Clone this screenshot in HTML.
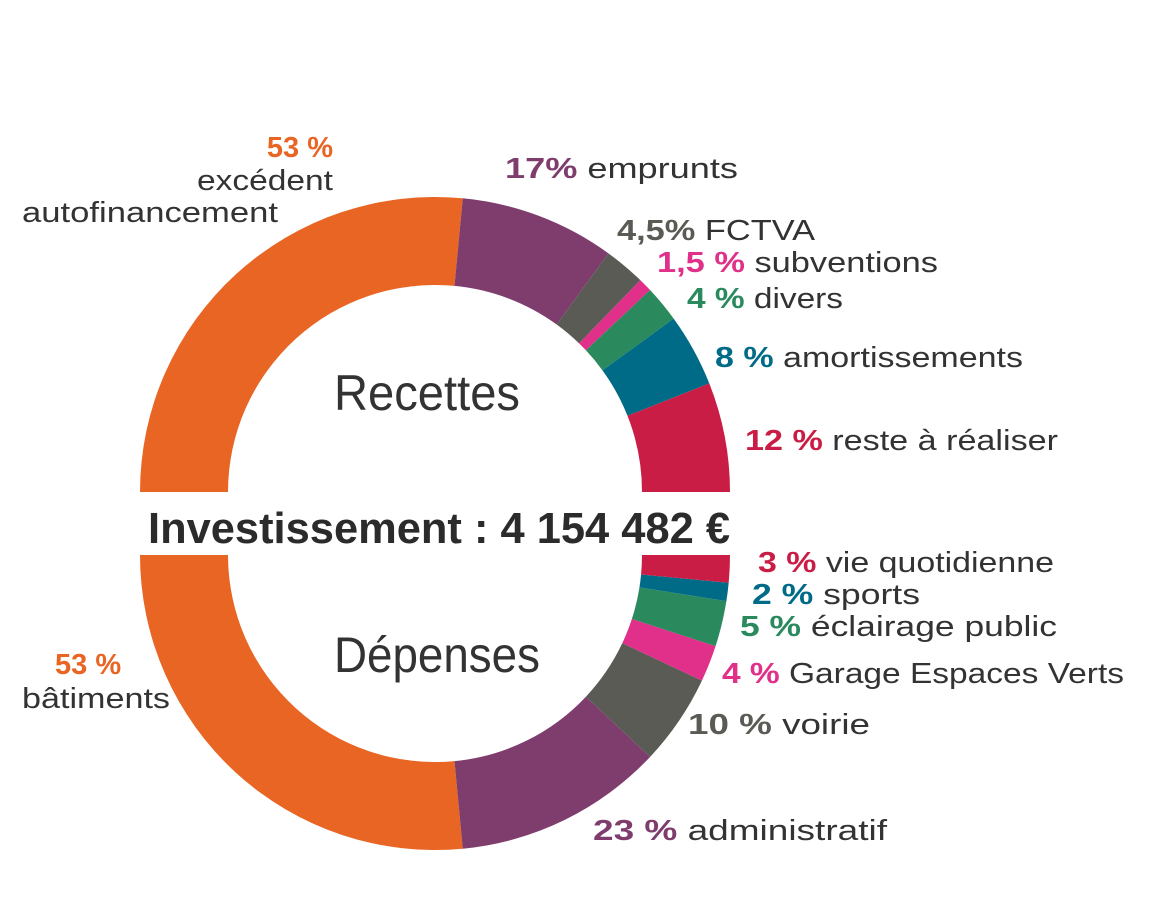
<!DOCTYPE html>
<html><head><meta charset="utf-8"><style>
html,body{margin:0;padding:0;background:#fff;}
svg{display:block;font-family:"Liberation Sans",sans-serif;}
</style></head><body>
<svg id="chart" width="1151" height="922" viewBox="0 0 1151 922" xmlns="http://www.w3.org/2000/svg">
<g id="slices"></g>
<g id="labels"></g>
<text x="427" y="410" font-size="50" fill="#333" text-anchor="middle" textLength="186" lengthAdjust="spacingAndGlyphs">Recettes</text>
<text x="437" y="672" font-size="50" fill="#333" text-anchor="middle" textLength="206" lengthAdjust="spacingAndGlyphs">Dépenses</text>
<text x="148" y="543" font-size="44" font-weight="bold" fill="#2b2b2b" textLength="582" lengthAdjust="spacingAndGlyphs">Investissement : 4 154 482 €</text>
<text x="333" y="157" font-size="29" font-weight="bold" fill="#E96524" text-anchor="end">53 %</text>
<text x="333" y="190" font-size="29" fill="#333" text-anchor="end" textLength="136" lengthAdjust="spacingAndGlyphs">excédent</text>
<text x="22" y="222" font-size="29" fill="#333" textLength="256" lengthAdjust="spacingAndGlyphs">autofinancement</text>
<text x="55" y="674" font-size="29" font-weight="bold" fill="#E96524">53 %</text>
<text x="22" y="708" font-size="29" fill="#333" textLength="148" lengthAdjust="spacingAndGlyphs">bâtiments</text>
</svg>
<script>
const recettesLabels = ["excédent autofinancement","emprunts","FCTVA","subventions","divers","amortissements","reste à réaliser"];
const recettesValues = [53,17,4.5,1.5,4,8,12];
const recettesPctText = ["53 %","17%","4,5%","1,5 %","4 %","8 %","12 %"];
const depensesLabels = ["bâtiments","administratif","voirie","Garage Espaces Verts","éclairage public","sports","vie quotidienne"];
const depensesValues = [53,23,10,4,5,2,3];
const depensesPctText = ["53 %","23 %","10 %","4 %","5 %","2 %","3 %"];
const colors = ["#E96524","#7F3D6E","#5B5B55","#E0308A","#2A8A5E","#006B87","#C91D45"];
const depColors = ["#E96524","#7F3D6E","#5B5B55","#E0308A","#2A8A5E","#006B87","#C91D45"];

const NS="http://www.w3.org/2000/svg";
const CX=435, R=295, RI=207, TOPCY=492, BOTCY=555;
const gS=document.getElementById('slices');
function pt(cx,cy,r,a){return [cx+r*Math.cos(a), cy+r*Math.sin(a)];}
function arc(cx,cy,a0,a1){
  const large=Math.abs(a1-a0)>Math.PI?1:0;
  const p0=pt(cx,cy,R,a0),p1=pt(cx,cy,R,a1),q1=pt(cx,cy,RI,a1),q0=pt(cx,cy,RI,a0);
  const sw=a1>a0?1:0, sw2=1-sw;
  return `M${p0[0]},${p0[1]}A${R},${R} 0 ${large} ${sw} ${p1[0]},${p1[1]}L${q1[0]},${q1[1]}A${RI},${RI} 0 ${large} ${sw2} ${q0[0]},${q0[1]}Z`;
}
function drawHalf(values,cols,cy,start,dir,prefix,names){
  const tot=values.reduce((a,b)=>a+b,0);
  let a=start;
  values.forEach((v,i)=>{
    const a1=a+dir*Math.PI*v/tot;
    const p=document.createElementNS(NS,'path');
    p.setAttribute('d',arc(CX,cy,a,a1));
    p.setAttribute('fill',cols[i]);
    
    
    gS.appendChild(p);
    a=a1;
  });
}
// top: from left (PI) clockwise to right (2PI)
drawHalf(recettesValues,colors,TOPCY,Math.PI,1,'recettes',recettesLabels);
// bottom: from left (PI) counter-clockwise to right (0)
drawHalf(depensesValues,depColors,BOTCY,Math.PI,-1,'depenses',depensesLabels);

const gL=document.getElementById('labels');
// label layout: [index, x, y, total width] ; index 0 labels drawn statically
const recPos=[null,[505,178,233],[617,240,198],[657,272,281],[687,308,156],[715,367,308],[745,450,313]];
const depPos=[null,[593,840,294],[688,734,182],[722,683,402],[740,636,317],[752,604,168],[758,572,296]];
function drawLabels(pcts,names,cols,pos,prefix){
  pos.forEach((p,i)=>{
    if(!p) return;
    const t=document.createElementNS(NS,'text');
    t.setAttribute('x',p[0]); t.setAttribute('y',p[1]);
    t.setAttribute('font-size','29');
    t.setAttribute('textLength',p[2]);
    t.setAttribute('lengthAdjust','spacingAndGlyphs');
    
    
    const s1=document.createElementNS(NS,'tspan');
    s1.setAttribute('font-weight','bold'); s1.setAttribute('fill',cols[i]);
    s1.textContent=pcts[i]+' ';
    const s2=document.createElementNS(NS,'tspan');
    s2.setAttribute('fill','#333');
    s2.textContent=names[i];
    t.appendChild(s1); t.appendChild(s2);
    gL.appendChild(t);
  });
}
drawLabels(recettesPctText,recettesLabels,colors,recPos,'recettes');
drawLabels(depensesPctText,depensesLabels,depColors,depPos,'depenses');
</script>
</body></html>
